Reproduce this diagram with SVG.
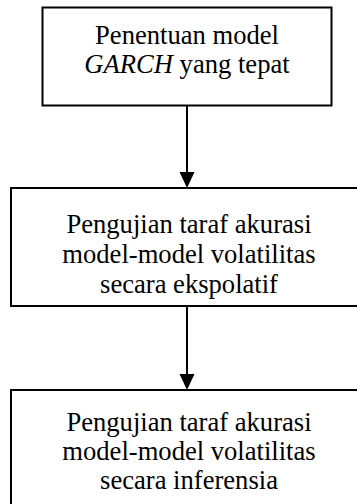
<svg xmlns="http://www.w3.org/2000/svg" width="357" height="504" viewBox="0 0 357 504">
<style>
.box{fill:#fff;stroke:#000;stroke-width:2}
.t{font-family:"Liberation Serif","Times New Roman",serif;font-size:26.6px;fill:#000;text-anchor:middle}
.c{stroke:#000;stroke-width:2;fill:none}
</style>
<defs>
<marker id="ah" markerWidth="15" markerHeight="16" refX="7.5" refY="16" orient="auto" markerUnits="userSpaceOnUse" viewBox="0 0 15 16">
<path d="M0,0 L15,0 L7.5,16 Z" fill="#000"/>
</marker>
</defs>
<rect width="357" height="504" fill="#fff"/>
<g id="connectors">
<line class="c" x1="187" y1="106" x2="187" y2="172"/>
<path d="M179.5,172 L194.5,172 L187,188 Z" fill="#000"/>
<line class="c" x1="187" y1="306" x2="187" y2="374"/>
<path d="M179.5,374 L194.5,374 L187,390 Z" fill="#000"/>
</g>
<g id="node1">
<rect class="box" x="42.5" y="7.5" width="289" height="98"/>
<text class="t" x="187" y="44">Penentuan model</text>
<text class="t" x="187" y="73"><tspan font-style="italic">GARCH</tspan> yang tepat</text>
</g>
<g id="node2">
<rect class="box" x="11" y="188" width="360" height="118"/>
<text class="t" x="189" y="233">Pengujian taraf akurasi</text>
<text class="t" x="189" y="263">model-model volatilitas</text>
<text class="t" x="189" y="293">secara ekspolatif</text>
</g>
<g id="node3">
<rect class="box" x="11" y="390" width="360" height="130"/>
<text class="t" x="189" y="431">Pengujian taraf akurasi</text>
<text class="t" x="189" y="460">model-model volatilitas</text>
<text class="t" x="189" y="489">secara inferensia</text>
</g>
</svg>
